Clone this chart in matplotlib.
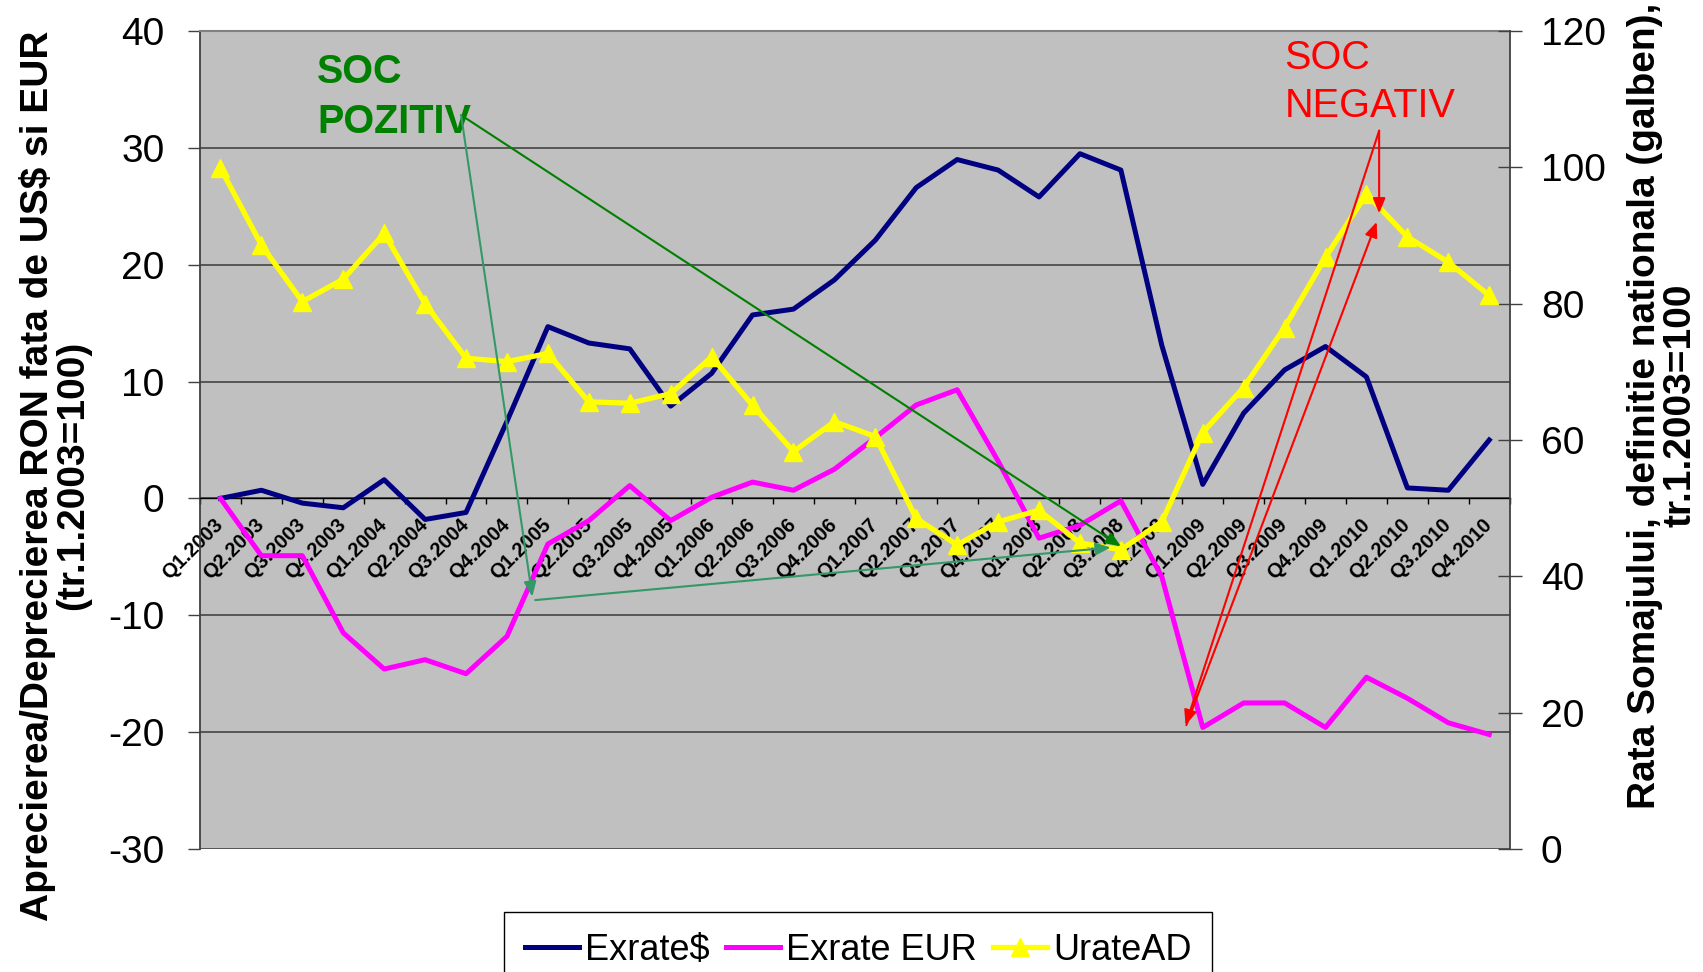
import matplotlib
matplotlib.use('Agg')
import matplotlib.pyplot as plt
from matplotlib.ticker import FixedLocator
import numpy as np

# ---------------- data ----------------
categories = ['Q1.2003', 'Q2.2003', 'Q3.2003', 'Q4.2003',
              'Q1.2004', 'Q2.2004', 'Q3.2004', 'Q4.2004',
              'Q1.2005', 'Q2.2005', 'Q3.2005', 'Q4.2005',
              'Q1.2006', 'Q2.2006', 'Q3.2006', 'Q4.2006',
              'Q1.2007', 'Q2.2007', 'Q3.2007', 'Q4.2007',
              'Q1.2008', 'Q2.2008', 'Q3.2008', 'Q4.2008',
              'Q1.2009', 'Q2.2009', 'Q3.2009', 'Q4.2009',
              'Q1.2010', 'Q2.2010', 'Q3.2010', 'Q4.2010']

exrate_usd = [0.0, 0.7, -0.4, -0.8, 1.6, -1.8, -1.2, 6.6,
              14.7, 13.3, 12.8, 7.9, 10.7, 15.7, 16.2, 18.7,
              22.1, 26.6, 29.0, 28.1, 25.8, 29.5, 28.1, 13.1,
              1.2, 7.3, 11.0, 13.0, 10.4, 0.9, 0.7, 5.0]

exrate_eur = [0.0, -4.9, -4.9, -11.5, -14.6, -13.8, -15.0, -11.8,
              -3.9, -1.9, 1.1, -1.9, 0.1, 1.4, 0.7, 2.5,
              5.2, 8.0, 9.3, 3.2, -3.4, -2.3, -0.2, -6.7,
              -19.6, -17.5, -17.5, -19.6, -15.3, -17.1, -19.2, -20.2]

urate_ad = [99.9, 88.6, 80.3, 83.6, 90.3, 80.0, 72.0, 71.5,
            72.7, 65.6, 65.4, 66.8, 72.2, 65.1, 58.3, 62.7,
            60.5, 48.5, 44.6, 48.0, 49.7, 44.9, 43.9, 48.0,
            61.1, 67.7, 76.5, 86.8, 96.1, 89.8, 86.1, 81.2]

left_ticks = [-30, -20, -10, 0, 10, 20, 30, 40]
right_ticks = [0, 20, 40, 60, 80, 100, 120]

series_names = ['Exrate$', 'Exrate EUR', 'UrateAD']
left_label = 'Aprecierea/Deprecierea RON fata de US$ si EUR\n(tr.1.2003=100)'
right_label = 'Rata Somajului, definitie nationala (galben),\ntr.1.2003=100'

# ---------------- style ----------------
plt.rcParams['font.family'] = ['Liberation Sans', 'DejaVu Sans']
plt.rcParams['axes.unicode_minus'] = False

NAVY = '#000080'
MAGENTA = '#FF00FF'
YELLOW = '#FFFF00'
GREEN = '#008000'
SEAGREEN = '#339966'
RED = '#FF0000'

fig = plt.figure(figsize=(17.03, 9.72), dpi=100)
ax = fig.add_axes([0.11744, 0.12654, 0.76905, 0.84156])
ax.set_facecolor('#C0C0C0')

x = np.arange(len(categories))

ax.set_xlim(-0.5, len(categories) - 0.5)
ax.set_ylim(left_ticks[0], left_ticks[-1])
ax.set_yticks(left_ticks)
ax.yaxis.grid(True, color='#4d4d4d', lw=1.3)

l1, = ax.plot(x, exrate_usd, color=NAVY, lw=3.6, label=series_names[0], zorder=3)
l2, = ax.plot(x, exrate_eur, color=MAGENTA, lw=3.6, label=series_names[1], zorder=3)

# x axis crossing at 0
ax.spines['bottom'].set_position(('data', 0))
ax.spines['bottom'].set_color('black')
ax.spines['bottom'].set_linewidth(1.0)
ax.spines['top'].set_color('#808080')
ax.spines['top'].set_linewidth(1.5)
ax.spines['left'].set_color('#404040')
ax.spines['left'].set_linewidth(1.3)
ax.spines['right'].set_visible(False)

ax.set_xticks(x)
ax.set_xticklabels(categories, rotation=45, ha='right', va='center',
                   rotation_mode='anchor', fontsize=14.5, fontweight='bold')
ax.xaxis.set_minor_locator(FixedLocator(np.arange(-0.5, len(categories), 1.0)))
ax.tick_params(axis='x', which='major', length=0, pad=17)
ax.tick_params(axis='x', which='minor', length=4.5, width=1.0, color='black', direction='out')
ax.tick_params(axis='y', direction='out', length=8.6, width=1.0, color='#404040',
               pad=17, labelsize=28)

ax2 = ax.twinx()
ax2.set_ylim(right_ticks[0], right_ticks[-1])
ax2.set_yticks(right_ticks)
for s in ['top', 'bottom', 'left']:
    ax2.spines[s].set_visible(False)
ax2.spines['right'].set_color('#404040')
ax2.spines['right'].set_linewidth(1.3)
ax2.tick_params(axis='y', direction='inout', length=17, width=1.0, color='#404040',
                pad=14, labelsize=28)

l3, = ax2.plot(x, urate_ad, color=YELLOW, lw=3.8, marker='^', markersize=13,
               markeredgecolor=YELLOW, label=series_names[2], zorder=3)

# ---------------- annotations (in left-axis data coordinates) ----------------
T = ax.transData
txt_kw = dict(transform=T, fontsize=28.5, ha='left', va='baseline', zorder=6)
ax2.text(2.36, 35.55, 'SOC', color=GREEN, fontweight='bold', **txt_kw)
ax2.text(2.36, 31.27, 'POZITIV', color=GREEN, fontweight='bold', **txt_kw)
ax2.text(26.0, 36.75, 'SOC', color=RED, **txt_kw)
ax2.text(26.0, 32.64, 'NEGATIV', color=RED, **txt_kw)

def arrow(start, end, color, lw=1.5):
    ax2.annotate('', xy=end, xycoords=T, xytext=start, textcoords=T,
                 arrowprops=dict(arrowstyle='-|>,head_length=0.6,head_width=0.25',
                                 color=color, lw=lw, mutation_scale=15,
                                 shrinkA=0, shrinkB=0),
                 zorder=6)

# positive shock arrows
arrow((5.88, 32.8), (22.0, -4.1), GREEN)
arrow((5.88, 32.8), (7.62, -8.4), SEAGREEN)
arrow((7.69, -8.7), (21.75, -4.2), SEAGREEN)
# negative shock arrows
arrow((28.31, 31.47), (28.31, 24.4), RED)
arrow((28.31, 31.47), (23.58, -19.4), RED)
arrow((23.6, -19.4), (28.25, 23.66), RED)

# ---------------- axis titles ----------------
fig.text(0.0323, 0.511, left_label, rotation=90, ha='center', va='center',
         multialignment='center', fontsize=28, fontweight='bold', linespacing=1.0)
fig.text(0.9765, 0.583, right_label, rotation=90, ha='center', va='center',
         multialignment='center', fontsize=28, fontweight='bold', linespacing=1.0)

# ---------------- legend ----------------
leg = fig.legend([l1, l2, l3], series_names, loc='upper center',
                 bbox_to_anchor=(0.504, 0.0617), ncol=3, fontsize=26,
                 frameon=True, fancybox=False, edgecolor='black', framealpha=1,
                 handlelength=1.5, handletextpad=0.16, columnspacing=0.45,
                 borderpad=0.58, borderaxespad=0, numpoints=1)
leg.get_frame().set_linewidth(1.0)

fig.savefig('out.png', dpi=100)
